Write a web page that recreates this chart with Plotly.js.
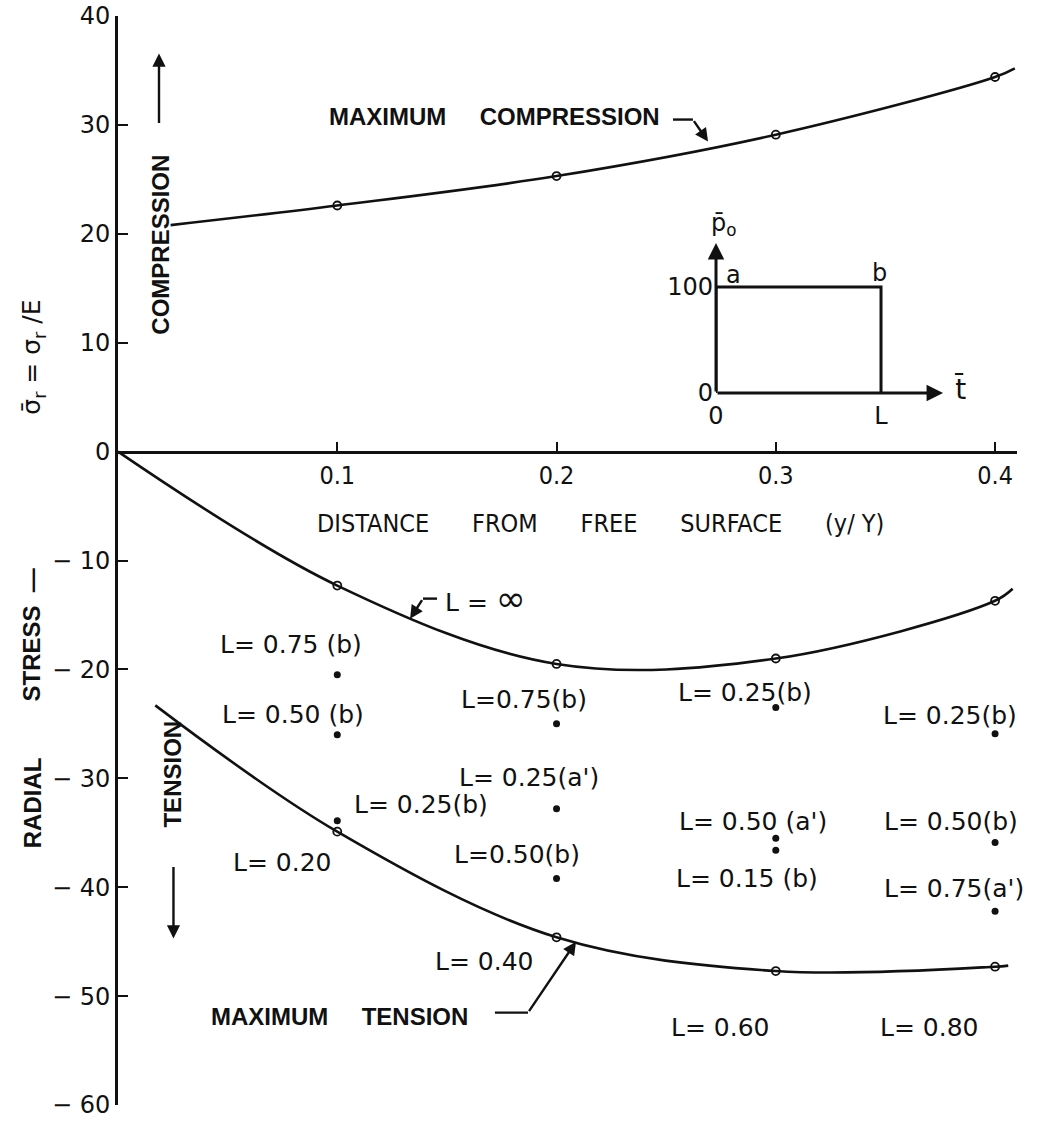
<!DOCTYPE html>
<html>
<head>
<meta charset="utf-8">
<script src="https://cdn.plot.ly/plotly-3.0.1.min.js"></script>
<style>
  body { margin: 0; background: #fff; }
  #chart { width: 1043px; height: 1125px; }
</style>
</head>
<body>
<div id="chart"></div>
<script>
// Stations through the depth (y/Y)
const depth = [0.1, 0.2, 0.3, 0.4];

// Envelope curves: stations plus the drawn ends of each curve
const compressionX = [0.024, 0.1, 0.2, 0.3, 0.4, 0.409];
const compressionY = [20.8, 22.6, 25.3, 29.1, 34.4, 35.2];
const infiniteX = [0, 0.1, 0.2, 0.3, 0.4, 0.408];
const infiniteY = [0, -12.3, -19.5, -19.0, -13.7, -12.6];
const tensionX = [0.017, 0.1, 0.2, 0.3, 0.4, 0.406];
const tensionY = [-23.3, -34.9, -44.6, -47.7, -47.3, -47.2];

// Computed stresses on the curves at each station
const compressionPts = [22.6, 25.3, 29.1, 34.4];
const infinitePts = [-12.3, -19.5, -19.0, -13.7];
const tensionPts = [-34.9, -44.6, -47.7, -47.3];
const tensionLabels = ['L= 0.20', 'L= 0.40', 'L= 0.60', 'L= 0.80'];

// Individual pulse-length results
const caseX = [0.1, 0.1, 0.1, 0.2, 0.2, 0.2, 0.3, 0.3, 0.3, 0.4, 0.4, 0.4];
const caseY = [-20.5, -26.0, -33.9, -25.0, -32.8, -39.2, -23.5, -35.5, -36.6, -25.9, -35.9, -42.2];
const caseLabels = ['L= 0.75 (b)', 'L= 0.50 (b)', 'L= 0.25(b)', 'L=0.75(b)', "L= 0.25(a')", 'L=0.50(b)',
                    'L= 0.25(b)', "L= 0.50 (a')", 'L= 0.15 (b)', 'L= 0.25(b)', 'L= 0.50(b)', "L= 0.75(a')"];

// Inset: applied pressure pulse history
const pulseT = [0, 0, 1, 1];
const pulseP = [0, 100, 100, 0];

// Axis ticks
const yTicks = [40, 30, 20, 10, 0, -10, -20, -30, -40, -50, -60];
const yTickText = ['40', '30', '20', '10', '0', '\u2212 10', '\u2212 20', '\u2212 30', '\u2212 40', '\u2212 50', '\u2212 60'];
const xTicks = [0.1, 0.2, 0.3, 0.4];
const xTickText = ['0.1', '0.2', '0.3', '0.4'];

// ---- presentation ----
const INK = '#111';
const LABEL_FONT = { family: 'DejaVu Sans', size: 25, color: INK };
const CAPS_FONT = { family: 'Liberation Sans', size: 24, color: INK, weight: 700 };
const NB = '\u00A0';
const gap = n => NB.repeat(n);

// pixel offsets of each label from its point
const caseShift = [[-46, 30], [-44, 20], [84, 16], [-33, 24], [-28, 31], [-40, 24],
                   [-31, 15], [-23, 17], [-29, -28], [-45, 18], [-44, 21], [-41, 23]];
const tensionShift = [[-55, -31], [-72, -24], [-55, -56], [-66, -61]];

const lineStyle = { shape: 'spline', smoothing: 1, color: INK, width: 2.6 };
const curveMarker = { symbol: 'circle-open', size: 8, color: INK, line: { width: 1.8, color: INK } };

const traces = [
  { x: compressionX, y: compressionY, mode: 'lines', line: lineStyle, hoverinfo: 'skip' },
  { x: infiniteX, y: infiniteY, mode: 'lines', line: lineStyle, hoverinfo: 'skip' },
  { x: tensionX, y: tensionY, mode: 'lines', line: lineStyle, hoverinfo: 'skip' },
  { x: depth, y: compressionPts, mode: 'markers', marker: curveMarker },
  { x: depth, y: infinitePts, mode: 'markers', marker: curveMarker },
  { x: depth, y: tensionPts, mode: 'markers', marker: curveMarker },
  { x: caseX, y: caseY, mode: 'markers', marker: { symbol: 'circle', size: 7, color: INK } },
  { x: pulseT, y: pulseP, xaxis: 'x2', yaxis: 'y2', mode: 'lines',
    line: { color: INK, width: 3 }, hoverinfo: 'skip' }
];

const annotations = [];

caseLabels.forEach((t, i) => annotations.push({
  x: caseX[i], y: caseY[i], xref: 'x', yref: 'y', text: t, showarrow: false,
  xanchor: 'center', yanchor: 'middle', xshift: caseShift[i][0], yshift: caseShift[i][1], font: LABEL_FONT
}));
tensionLabels.forEach((t, i) => annotations.push({
  x: depth[i], y: tensionPts[i], xref: 'x', yref: 'y', text: t, showarrow: false,
  xanchor: 'center', yanchor: 'middle', xshift: tensionShift[i][0], yshift: tensionShift[i][1], font: LABEL_FONT
}));

// leader arrows
function arrow(x, y, ax, ay, w, xr, yr) {
  xr = xr || 'x'; yr = yr || 'y';
  return { x: x, y: y, ax: ax, ay: ay, xref: xr, yref: yr, axref: xr, ayref: yr, text: '',
           showarrow: true, arrowhead: 2, arrowsize: 1.1, arrowwidth: w || 2.4, arrowcolor: INK, standoff: 0 };
}
annotations.push(arrow(0.2691, 28.47, 0.2622, 30.49));      // maximum compression
annotations.push(arrow(0.2089, -45.0, 0.1870, -51.52));     // maximum tension
annotations.push(arrow(0.1332, -15.34, 0.1391, -13.50));    // L = infinity
annotations.push(arrow(0.0187, 36.55, 0.0187, 30.03));      // compression direction
annotations.push(arrow(0.0253, -44.7, 0.0253, -38.0));      // tension direction
annotations.push(arrow(0, 141.5, 0, 0, 3, 'x2', 'y2'));     // inset pressure axis
annotations.push(arrow(1.376, 0, 0, 0, 3, 'x2', 'y2'));     // inset time axis

// text blocks
const centred = { showarrow: false, xanchor: 'center', yanchor: 'middle' };
annotations.push(Object.assign({ x: 0.1715, y: 30.76, xref: 'x', yref: 'y', font: CAPS_FONT,
  text: 'MAXIMUM' + gap(5) + 'COMPRESSION' }, centred));
annotations.push(Object.assign({ x: 0.1012, y: -51.88, xref: 'x', yref: 'y', font: CAPS_FONT,
  text: 'MAXIMUM' + gap(5) + 'TENSION' }, centred));
annotations.push(Object.assign({ x: 0.1674, y: -13.5, xref: 'x', yref: 'y', font: LABEL_FONT,
  text: 'L = <span style="font-size:36px">\u221E</span>' }, centred));
annotations.push(Object.assign({ x: 0.0196, y: 19.0, xref: 'x', yref: 'y', font: CAPS_FONT,
  textangle: -90, text: 'COMPRESSION' }, centred));
annotations.push(Object.assign({ x: 0.0249, y: -29.6, xref: 'x', yref: 'y', font: CAPS_FONT,
  textangle: -90, text: 'TENSION' }, centred));

// vertical axis title, drawn in parts either side of the origin
annotations.push(Object.assign({ x: -0.0957, y: -32.2, xref: 'paper', yref: 'y', font: CAPS_FONT,
  textangle: -90, text: 'RADIAL' }, centred));
annotations.push(Object.assign({ x: -0.0957, y: -16.8, xref: 'paper', yref: 'y', font: CAPS_FONT,
  textangle: -90, text: 'STRESS' + gap(2) + '\u2014' }, centred));
annotations.push(Object.assign({ x: -0.0945, y: 8.63, xref: 'paper', yref: 'y',
  font: { family: 'DejaVu Sans', size: 25, color: INK }, textangle: -90,
  text: '\u03C3\u0304<sub>r</sub> = \u03C3<sub>r</sub> /E' }, centred));

annotations.push(Object.assign({ x: 0.2200, y: -6.61, xref: 'x', yref: 'y',
  font: { family: 'DejaVu Sans Condensed', size: 25, color: INK },
  text: 'DISTANCE' + gap(6) + 'FROM' + gap(6) + 'FREE' + gap(6) + 'SURFACE' + gap(6) + '(y/ Y)' }, centred));

// inset labels
const insetFont = { family: 'DejaVu Sans', size: 24, color: INK };
annotations.push(Object.assign({ x: 0.103, y: 111, xref: 'x2', yref: 'y2', font: insetFont, text: 'a' }, centred));
annotations.push(Object.assign({ x: 0.988, y: 113, xref: 'x2', yref: 'y2', font: insetFont, text: 'b' }, centred));
annotations.push(Object.assign({ x: 0.048, y: 159, xref: 'x2', yref: 'y2', font: insetFont,
  text: 'p\u0304<sub>o</sub>' }, centred));
annotations.push(Object.assign({ x: 1.479, y: 3.8, xref: 'x2', yref: 'y2',
  font: { family: 'DejaVu Sans', size: 28, color: INK }, text: 't\u0304' }, centred));

// short horizontal leader strokes
const stroke = (x0, x1, y) => ({ type: 'line', xref: 'x', yref: 'y', x0: x0, x1: x1, y0: y, y1: y,
  line: { color: INK, width: 2.4 } });

const layout = {
  width: 1043, height: 1125,
  margin: { l: 118, r: 26, t: 16, b: 20 },
  paper_bgcolor: '#fff', plot_bgcolor: '#fff',
  showlegend: false,
  font: { family: 'DejaVu Sans', color: INK },
  xaxis: {
    range: [0, 0.41], domain: [0, 1], anchor: 'free', position: 0.6,
    showline: true, linewidth: 3, linecolor: INK,
    ticks: 'inside', ticklen: 9, tickwidth: 2, tickcolor: INK,
    tickvals: xTicks, ticktext: xTickText,
    tickfont: { family: 'DejaVu Sans Condensed', size: 25, color: INK },
    showgrid: false, zeroline: false
  },
  yaxis: {
    range: [-60, 40], domain: [0, 1],
    showline: true, linewidth: 3, linecolor: INK,
    ticks: 'inside', ticklen: 10, tickwidth: 2, tickcolor: INK,
    tickvals: yTicks, ticktext: yTickText,
    tickfont: { family: 'DejaVu Sans', size: 24, color: INK },
    showgrid: false, zeroline: false
  },
  xaxis2: {
    domain: [0.6652, 0.9405], range: [0, 1.5], anchor: 'y2',
    showline: false, showgrid: false, zeroline: false, ticks: '',
    tickvals: [0, 1], ticktext: ['0', 'L'], tickfont: insetFont, ticklabelstandoff: 6
  },
  yaxis2: {
    domain: [0.6538, 0.8242], range: [0, 175], anchor: 'x2',
    showline: false, showgrid: false, zeroline: false, ticks: '',
    tickvals: [0, 100], ticktext: ['0', '100'], tickfont: insetFont, ticklabelstandoff: 2
  },
  annotations: annotations,
  shapes: [
    stroke(0.2531, 0.2622, 30.49),
    stroke(0.1719, 0.1870, -51.52),
    stroke(0.1391, 0.1455, -13.50)
  ]
};

Plotly.newPlot('chart', traces, layout, { staticPlot: true, displayModeBar: false });
</script>
</body>
</html>
